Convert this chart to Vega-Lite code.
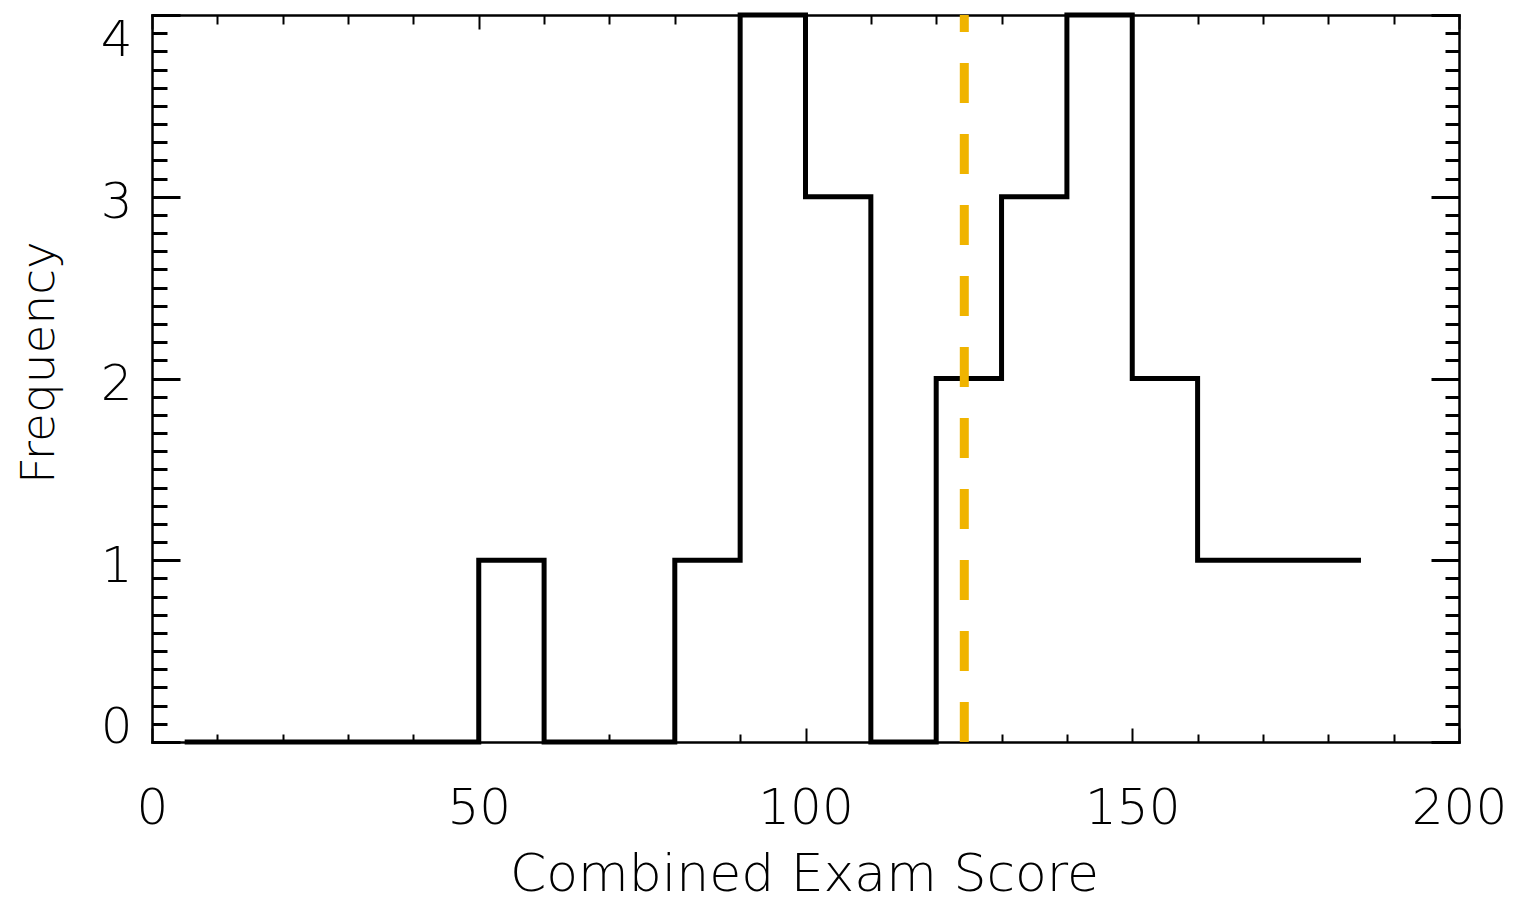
{
  "$schema": "https://vega.github.io/schema/vega-lite/v6.json",
  "autosize": {"type": "none"},
  "padding": {"left": 152, "top": 15, "right": 58, "bottom": 159},
  "width": 1307,
  "height": 727,
  "background": "white",
  "config": {
    "view": {"stroke": null},
    "axis": {
      "grid": false,
      "labelFont": "DejaVu Sans",
      "titleFont": "DejaVu Sans",
      "labelFontWeight": 200,
      "titleFontWeight": 200,
      "labelColor": "black",
      "titleColor": "black",
      "domainColor": "black",
      "tickColor": "black",
      "domainWidth": 2.5,
      "domainCap": "square",
      "labelFontSize": 50,
      "titleFontSize": 50
    }
  },
  "datasets": {
    "hist": [
      {"score": 5, "freq": 0},
      {"score": 50, "freq": 1},
      {"score": 60, "freq": 0},
      {"score": 80, "freq": 1},
      {"score": 90, "freq": 4},
      {"score": 100, "freq": 3},
      {"score": 110, "freq": 0},
      {"score": 120, "freq": 2},
      {"score": 130, "freq": 3},
      {"score": 140, "freq": 4},
      {"score": 150, "freq": 2},
      {"score": 160, "freq": 1},
      {"score": 185, "freq": 1}
    ],
    "mean": [{"score": 124.3}]
  },
  "layer": [
    {
      "data": {"name": "hist"},
      "mark": {"type": "line", "interpolate": "step-after", "color": "black", "strokeWidth": 5, "strokeJoin": "miter", "strokeCap": "butt"},
      "encoding": {
        "x": {
          "field": "score", "type": "quantitative",
          "scale": {"domain": [0, 200], "nice": false, "zero": false},
          "axis": {
            "orient": "bottom", "values": [0, 50, 100, 150, 200], "format": "d",
            "tickSize": -14, "tickWidth": 2, "labelPadding": 55.5, "labelFlush": false,
            "labelBaseline": "top", "labelAlign": "center",
            "title": "Combined Exam Score", "titleX": 652, "titleY": 148, "titleFontSize": 52,
            "titleAlign": "center", "titleBaseline": "alphabetic"
          }
        },
        "y": {
          "field": "freq", "type": "quantitative",
          "scale": {"domain": [0, 4], "nice": false},
          "axis": {
            "orient": "left", "values": [0, 1, 2, 3, 4], "format": "d",
            "tickSize": -28, "tickWidth": 3, "labelPadding": 48, "labelFlush": false,
            "labelAlign": "right",
            "labelBaseline": {"condition": [{"test": "datum.value == 0", "value": "alphabetic"}, {"test": "datum.value == 4", "value": "top"}], "value": "middle"},
            "labelOffset": {"condition": {"test": "datum.value > 0 && datum.value < 4", "value": 6}, "value": 0},
            "title": "Frequency", "titleX": -99, "titleY": 347, "titleAngle": -90, "titleFontSize": 47,
            "titleAlign": "center", "titleBaseline": "alphabetic"
          }
        }
      }
    },
    {
      "data": {"name": "hist"},
      "mark": {"type": "line", "interpolate": "step-after", "strokeOpacity": 0},
      "encoding": {
        "x": {
          "field": "score", "type": "quantitative",
          "axis": {
            "orient": "bottom",
            "values": [10, 20, 30, 40, 60, 70, 80, 90, 110, 120, 130, 140, 160, 170, 180, 190],
            "tickSize": -8, "tickWidth": 2, "labels": false, "domain": false, "title": null
          }
        },
        "y": {
          "field": "freq", "type": "quantitative",
          "axis": {
            "orient": "left",
            "values": [0.1, 0.2, 0.3, 0.4, 0.5, 0.6, 0.7, 0.8, 0.9, 1.1, 1.2, 1.3, 1.4, 1.5, 1.6, 1.7, 1.8, 1.9, 2.1, 2.2, 2.3, 2.4, 2.5, 2.6, 2.7, 2.8, 2.9, 3.1, 3.2, 3.3, 3.4, 3.5, 3.6, 3.7, 3.8, 3.9],
            "tickSize": -15, "tickWidth": 3, "labels": false, "domain": false, "title": null
          }
        }
      }
    },
    {
      "data": {"name": "hist"},
      "mark": {"type": "line", "interpolate": "step-after", "strokeOpacity": 0},
      "encoding": {
        "x": {
          "field": "score", "type": "quantitative",
          "axis": {
            "orient": "top", "values": [0, 50, 100, 150, 200],
            "tickSize": -14, "tickWidth": 2, "labels": false, "domain": true, "title": null
          }
        },
        "y": {
          "field": "freq", "type": "quantitative",
          "axis": {
            "orient": "right", "values": [0, 1, 2, 3, 4],
            "tickSize": -28, "tickWidth": 3, "labels": false, "domain": true, "title": null
          }
        }
      }
    },
    {
      "data": {"name": "hist"},
      "mark": {"type": "line", "interpolate": "step-after", "strokeOpacity": 0},
      "encoding": {
        "x": {
          "field": "score", "type": "quantitative",
          "axis": {
            "orient": "top",
            "values": [10, 20, 30, 40, 60, 70, 80, 90, 110, 120, 130, 140, 160, 170, 180, 190],
            "tickSize": -9, "tickWidth": 2, "labels": false, "domain": false, "title": null
          }
        },
        "y": {
          "field": "freq", "type": "quantitative",
          "axis": {
            "orient": "right",
            "values": [0.1, 0.2, 0.3, 0.4, 0.5, 0.6, 0.7, 0.8, 0.9, 1.1, 1.2, 1.3, 1.4, 1.5, 1.6, 1.7, 1.8, 1.9, 2.1, 2.2, 2.3, 2.4, 2.5, 2.6, 2.7, 2.8, 2.9, 3.1, 3.2, 3.3, 3.4, 3.5, 3.6, 3.7, 3.8, 3.9],
            "tickSize": -14, "tickWidth": 3, "labels": false, "domain": false, "title": null
          }
        }
      }
    },
    {
      "data": {"name": "mean"},
      "mark": {"type": "rule", "color": "#f0b400", "strokeWidth": 9, "strokeDash": [40, 31], "strokeDashOffset": 23},
      "encoding": {
        "x": {"field": "score", "type": "quantitative", "axis": null}
      }
    }
  ],
  "resolve": {"axis": {"x": "independent", "y": "independent"}}
}
